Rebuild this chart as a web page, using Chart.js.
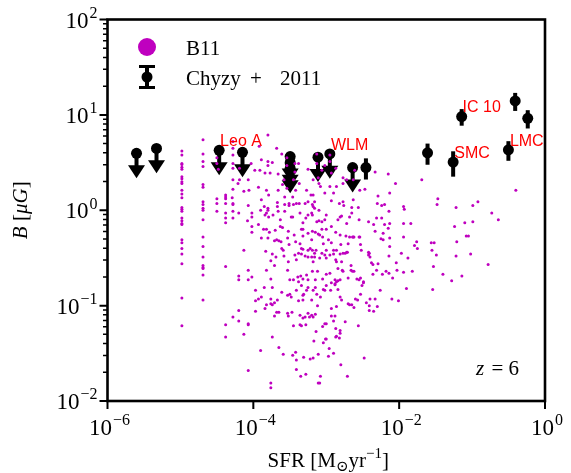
<!DOCTYPE html>
<html><head><meta charset="utf-8">
<script src="https://cdn.jsdelivr.net/npm/chart.js@4"></script>
<style>html,body{margin:0;padding:0;background:#fff}</style>
</head><body>
<canvas id="c" width="571" height="473"></canvas>
<script>
// ---------------- DATA ----------------
// B11 model galaxies: [log10 SFR (Msun/yr), log10 B (muG)]
const b11Col1 = [0.62,0.58,0.49,0.48,0.45,0.43,0.35,0.33,0.30,0.28,0.21,0.17,0.13,0.03,0.01,-0.01,-0.08,-0.11,-0.14,-0.15,-0.31,-0.34,-0.40,-0.46,-0.56,-0.92,-1.21];
const b11Col1LogSFR = -4.98;
const b11Col2 = [0.74,0.59,0.51,0.46,0.27,0.24,0.09,0.06,0.02,0.00,-0.10,-0.28,-0.38,-0.49,-0.58,-0.60,-0.61,-0.68,-0.94];
const b11Col2LogSFR = -4.69;
const b11Log = [
[-4.50,0.07],[-4.38,0.07],[-4.28,0.07],[-4.28,0.06],[-4.07,0.05],[-3.89,0.11],[-3.85,0.04],[-3.80,0.02],[-3.80,0.00],[-3.67,0.08],
[-3.67,0.04],[-3.57,0.06],[-3.51,0.07],[-3.51,0.05],[-3.45,0.06],[-3.41,0.07],[-3.37,0.07],[-3.29,0.07],[-3.25,0.09],[-3.19,0.06],
[-3.18,0.04],[-3.16,0.09],[-3.10,0.00],[-2.93,0.10],[-2.82,0.07],[-2.76,0.05],[-2.77,0.09],[-2.65,0.03],[-2.56,0.03],[-2.63,0.11],
[-2.30,0.07],[-2.24,0.05],[-2.20,0.06],[-2.14,-0.01],[-1.94,0.04],[-1.93,0.01],[-1.48,0.06],[-1.22,0.03],[-0.99,0.05],[-0.92,0.09],
[-4.50,-0.01],[-4.38,-0.03],[-4.28,-0.01],[-4.28,-0.08],[-4.20,-0.03],[-4.08,-0.11],[-4.02,-0.03],[-4.02,-0.07],[-3.90,0.00],[-3.84,-0.05],
[-3.82,-0.03],[-3.79,-0.07],[-3.73,-0.05],[-3.66,-0.01],[-3.63,-0.10],[-3.57,-0.01],[-3.48,-0.07],[-3.46,-0.07],[-3.36,-0.03],[-3.32,-0.13],
[-3.28,-0.08],[-3.25,-0.05],[-3.20,-0.03],[-3.19,-0.05],[-3.16,0.02],[-3.13,-0.12],[-3.10,-0.11],[-3.06,-0.12],[-3.02,-0.10],[-3.00,-0.05],
[-2.84,-0.10],[-2.81,-0.07],[-2.79,-0.06],[-2.72,-0.14],[-2.68,-0.07],[-2.65,-0.03],[-2.55,-0.10],[-2.42,-0.12],[-2.35,-0.15],[-2.31,-0.08],
[-2.24,-0.08],[-2.20,-0.15],[-2.13,-0.14],[-1.94,-0.14],[-1.84,-0.14],[-1.24,-0.17],[-1.10,-0.13],[-0.99,-0.12],[-0.73,-0.03],[-0.64,-0.10],
[-4.02,-0.17],[-4.02,-0.23],[-3.93,-0.15],[-3.86,-0.20],[-3.82,-0.20],[-3.78,-0.23],[-3.70,-0.21],[-3.63,-0.17],[-3.60,-0.18],[-3.52,-0.22],
[-3.44,-0.26],[-3.34,-0.20],[-3.32,-0.20],[-3.32,-0.27],[-3.25,-0.24],[-3.19,-0.22],[-3.15,-0.23],[-3.11,-0.25],[-3.09,-0.26],[-3.06,-0.20],
[-3.05,-0.28],[-3.00,-0.20],[-2.93,-0.17],[-2.87,-0.23],[-2.81,-0.26],[-2.73,-0.27],[-2.68,-0.28],[-2.63,-0.28],[-2.55,-0.28],[-2.54,-0.28],
[-2.33,-0.22],[-2.22,-0.24],[-2.15,-0.19],[-1.94,-0.28],[-1.08,-0.27],[-1.05,-0.27],
[-3.89,-0.29],[-3.80,-0.29],[-3.71,-0.32],[-3.68,-0.31],[-3.65,-0.32],[-3.62,-0.33],[-3.61,-0.40],[-3.53,-0.29],[-3.51,-0.36],[-3.42,-0.33],
[-3.36,-0.35],[-3.34,-0.40],[-3.32,-0.41],[-3.25,-0.42],[-3.22,-0.40],[-3.20,-0.31],[-3.19,-0.42],[-3.14,-0.42],[-3.16,-0.45],[-3.04,-0.35],
[-3.00,-0.42],[-2.97,-0.31],[-2.93,-0.34],[-2.90,-0.42],[-2.86,-0.42],[-2.80,-0.36],[-2.77,-0.45],[-2.72,-0.44],[-2.70,-0.35],[-2.64,-0.28],
[-2.62,-0.28],[-2.53,-0.36],[-2.52,-0.42],[-2.42,-0.44],[-2.41,-0.45],[-2.25,-0.30],[-2.22,-0.31],[-2.13,-0.29],[-2.13,-0.38],[-1.97,-0.45],
[-1.76,-0.33],[-1.75,-0.40],[-1.56,-0.34],[-1.52,-0.34],[-1.55,-0.42],[-1.21,-0.33],[-4.13,-0.42],[-1.79,-0.37],
[-3.83,-0.43],[-3.74,-0.46],[-3.69,-0.49],[-3.76,-0.53],[-3.71,-0.58],[-3.59,-0.42],[-3.58,-0.48],[-3.52,-0.54],[-3.43,-0.47],[-3.41,-0.52],
[-3.38,-0.45],[-3.34,-0.46],[-3.29,-0.48],[-3.25,-0.49],[-3.20,-0.49],[-3.18,-0.54],[-3.16,-0.49],[-3.09,-0.50],[-3.06,-0.45],[-3.02,-0.47],
[-3.00,-0.50],[-2.95,-0.47],[-2.90,-0.46],[-2.87,-0.52],[-2.86,-0.54],[-2.81,-0.46],[-2.79,-0.54],[-2.74,-0.45],[-2.71,-0.44],[-2.66,-0.58],
[-2.64,-0.64],[-2.42,-0.47],[-2.40,-0.49],[-2.38,-0.55],[-2.36,-0.57],[-2.29,-0.56],[-2.14,-0.48],[-2.04,-0.55],[-1.88,-0.50],[-1.49,-0.47],
[-1.53,-0.59],[-1.22,-0.48],[-1.02,-0.46],[-0.78,-0.57],
[-4.38,-0.59],[-4.20,-0.69],[-4.20,-0.73],[-4.07,-0.63],[-4.07,-0.73],[-4.02,-0.70],[-3.82,-0.63],[-3.76,-0.72],[-3.53,-0.63],[-3.50,-0.73],
[-3.45,-0.73],[-3.39,-0.70],[-3.38,-0.75],[-3.35,-0.69],[-3.32,-0.72],[-3.27,-0.68],[-3.25,-0.73],[-3.19,-0.64],[-3.15,-0.73],[-3.12,-0.64],
[-3.05,-0.72],[-3.00,-0.67],[-2.95,-0.66],[-2.93,-0.76],[-2.88,-0.73],[-2.88,-0.77],[-2.86,-0.75],[-2.84,-0.74],[-2.81,-0.73],[-2.84,-0.61],
[-2.78,-0.63],[-2.77,-0.64],[-2.70,-0.71],[-2.66,-0.63],[-2.62,-0.64],[-2.58,-0.72],[-2.55,-0.73],[-2.53,-0.71],[-2.49,-0.76],[-2.36,-0.67],
[-2.31,-0.63],[-2.23,-0.67],[-2.18,-0.64],[-2.14,-0.66],[-2.09,-0.71],[-2.03,-0.63],[-1.94,-0.65],[-1.82,-0.64],[-1.40,-0.67],[-1.28,-0.74],
[-1.14,-0.69],
[-3.97,-0.84],[-3.93,-0.93],[-3.89,-0.91],[-3.85,-0.81],[-3.76,-0.93],[-3.74,-0.81],[-3.67,-0.94],[-3.61,-0.86],[-3.53,-0.89],[-3.50,-0.88],
[-3.48,-0.91],[-3.41,-0.84],[-3.38,-0.95],[-3.34,-0.79],[-3.32,-0.89],[-3.32,-0.94],[-3.31,-0.88],[-3.27,-0.84],[-3.25,-0.81],[-3.20,-0.94],
[-3.18,-0.84],[-3.15,-0.81],[-3.13,-0.88],[-3.08,-0.91],[-3.04,-0.83],[-3.02,-0.84],[-3.00,-0.79],[-2.94,-0.84],[-2.88,-0.78],[-2.84,-0.83],
[-2.81,-0.91],[-2.79,-0.94],[-2.70,-0.98],[-2.68,-0.99],[-2.65,-0.99],[-2.60,-0.93],[-2.57,-0.94],[-2.53,-0.88],[-2.51,-0.79],[-2.49,-0.75],
[-2.45,-0.97],[-2.41,-1.00],[-2.40,-0.93],[-2.33,-0.93],[-2.26,-0.84],[-2.10,-0.93],[-2.01,-0.95],[-1.90,-0.82],[-1.54,-0.83],
[-3.97,-0.95],[-3.71,-0.97],[-3.76,-0.98],[-3.82,-0.99],
[-4.20,-1.05],[-4.20,-1.16],[-4.28,-1.12],[-4.38,-1.20],[-4.07,-1.19],[-4.07,-1.20],[-3.97,-1.06],[-3.84,-1.03],[-3.74,-0.99],[-3.68,-1.07],
[-3.65,-1.07],[-3.71,-1.11],[-3.53,-1.08],[-3.52,-1.11],[-3.47,-1.07],[-3.45,-1.21],[-3.36,-1.10],[-3.36,-1.20],[-3.34,-1.21],[-3.32,-1.13],
[-3.29,-1.12],[-3.28,-1.20],[-3.25,-1.08],[-3.23,-1.12],[-3.20,-1.10],[-3.18,-1.12],[-3.15,-1.09],[-3.12,-1.00],[-3.05,-1.22],[-3.02,-1.19],
[-3.00,-1.19],[-2.93,-1.11],[-2.93,-1.03],[-2.90,-1.16],[-2.88,-1.11],[-2.87,-1.24],[-2.86,-1.01],[-2.81,-1.26],[-2.74,-1.17],[-2.62,-1.02],
[-2.56,-1.21],[-2.41,-1.05],[-2.35,-1.06],[-2.30,-1.01],
[-4.38,-1.33],[-4.13,-1.30],[-4.07,-1.68],[-3.90,-1.47],[-3.74,-1.33],[-3.65,-1.44],[-3.59,-1.51],[-3.46,-1.52],[-3.42,-1.49],[-3.41,-1.57],
[-3.41,-1.67],[-3.35,-1.74],[-3.31,-1.54],[-3.28,-1.72],[-3.22,-1.56],[-3.18,-1.55],[-3.17,-1.37],[-3.14,-1.27],[-3.11,-1.51],[-3.11,-1.81],
[-3.09,-1.81],[-3.08,-1.74],[-3.04,-1.39],[-3.01,-1.35],[-3.00,-1.35],[-2.97,-1.53],[-2.96,-1.45],[-2.90,-1.50],[-2.87,-1.33],[-2.86,-1.32],
[-2.82,-1.34],[-2.81,-1.29],[-2.80,-1.62],[-2.71,-1.74],[-2.48,-1.55],[-3.76,-1.81],[-3.76,-1.86],
[-3.80,0.79],[-4.28,0.72],[-4.28,0.65],[-3.68,0.65],[-4.28,0.58],[-3.89,0.53],[-3.80,0.51],[-3.80,0.47],[-4.50,0.55],[-4.50,0.49],
[-4.48,0.43],[-4.28,0.49],[-4.28,0.44],[-4.19,0.44],[-3.98,0.42],[-3.91,0.42],[-3.84,0.39],[-3.77,0.39],[-3.66,0.38],[-4.28,0.32],
[-4.19,0.32],[-4.07,0.32],[-4.21,0.28],[-3.93,0.24],[-4.28,0.22],[-4.13,0.20],[-4.06,0.21],[-3.82,0.21],[-3.79,0.16],[-3.66,0.21],
[-4.38,0.16],[-4.38,0.14],[-4.50,0.12],[-4.29,0.13],[-3.92,0.67],[-3.74,0.50],[-4.03,0.49],[-4.38,0.12],[-4.38,-0.08],[-4.38,-0.13],
[-3.61,0.59],[-3.54,0.55],[-3.54,0.47],[-3.43,0.49],[-3.43,0.40],[-3.38,0.49],[-3.25,0.43],[-3.13,0.59],[-3.13,0.49],[-3.06,0.42],
[-3.02,0.47],[-2.95,0.58],[-2.95,0.51],[-2.93,0.39],[-2.87,0.44],[-2.77,0.34],[-2.77,0.28],[-2.72,0.32],[-2.61,0.42],[-2.54,0.21],
[-2.47,0.22],[-2.33,0.40],[-2.29,0.15],[-2.15,0.38],[-3.58,0.32],[-3.60,0.27],[-3.45,0.32],[-3.54,0.23],[-3.37,0.28],[-3.18,0.32],
[-3.11,0.34],[-3.10,0.28],[-3.08,0.25],[-2.95,0.25],[-2.90,0.18],[-2.86,0.25],[-3.02,0.18],[-3.18,0.16],[-3.27,0.21],[-3.21,0.16],
[-3.42,0.21],[-3.46,0.14],[-3.57,0.14],[-2.63,0.32],
[-1.69,0.32],[-2.05,0.28],[-2.13,0.18],[-1.47,0.12],[-0.40,0.21]
];

// Chyzy et al. 2011 -- detections (B with symmetric error)
const chyzySFR = [3.5e-3, 0.0245, 0.055, 0.072, 0.39, 0.58, 0.315];
const chyzyB   = [2.8, 4.0, 3.2, 9.6, 14.0, 9.2, 4.3];
const chyzyErr = [0.7, 1.0, 0.95, 1.9, 3.0, 2.0, 1.0];
// Chyzy et al. 2011 -- upper limits
const chyzyLimSFR = [2.5e-6, 4.7e-6, 3.4e-5, 7.1e-5, 3.2e-4, 3.2e-4, 3.2e-4, 7.7e-4, 1.12e-3, 2.3e-3];
const chyzyLimB   = [3.95, 4.45, 4.25, 4.05, 3.65, 3.15, 2.75, 3.6, 3.9, 2.8];
// galaxy name annotations
const galaxyNames = ['Leo A', 'WLM', 'IC 10', 'SMC', 'LMC'];
const galaxyLabelSFR = [3.5e-5, 1.16e-3, 0.074, 0.057, 0.33];
const galaxyLabelB   = [4.75, 4.3, 10.6, 3.5, 4.75];
// axis ticks
const xMajorTicks = [1e-6, 1e-4, 1e-2, 1];
const yMajorTicks = [1e-2, 1e-1, 1, 10, 100];
const yMinorMantissas = [2,3,4,5,6,7,8,9];
const seriesNames = ['B11', 'Chyzy + 2011'];
const redshiftLabel = '6';

// ---------------- BUILD ----------------
const b11Points = [];
b11Col1.forEach(v => b11Points.push({x: Math.pow(10, b11Col1LogSFR), y: Math.pow(10, v)}));
b11Col2.forEach(v => b11Points.push({x: Math.pow(10, b11Col2LogSFR), y: Math.pow(10, v)}));
b11Log.forEach(p => b11Points.push({x: Math.pow(10, p[0]), y: Math.pow(10, p[1])}));
const detPoints = chyzySFR.map((s, i) => ({x: s, y: chyzyB[i]}));
const limPoints = chyzyLimSFR.map((s, i) => ({x: s, y: chyzyLimB[i]}));

const MAG = '#bf00bf';
const SERIF = '"Liberation Serif", "DejaVu Serif", serif';
const SANS = '"Liberation Sans", Arial, sans-serif';

function drawPow(ctx, x, y, exp, align, baseSize) {
  const expSize = Math.round(baseSize * 0.7);
  ctx.font = baseSize + 'px ' + SERIF;
  const wb = ctx.measureText('10').width;
  const es = (exp < 0 ? '\u2212' : '') + Math.abs(exp);
  ctx.font = expSize + 'px ' + SERIF;
  const we = ctx.measureText(es).width;
  const total = wb + we + 1;
  let x0 = align === 'right' ? x - total : x - total / 2;
  ctx.textBaseline = 'alphabetic';
  ctx.textAlign = 'left';
  ctx.font = baseSize + 'px ' + SERIF;
  ctx.fillText('10', x0, y);
  ctx.font = expSize + 'px ' + SERIF;
  ctx.fillText(es, x0 + wb + 1, y - baseSize * 0.42);
}

const mplPlugin = {
  id: 'mpl',
  beforeDatasetsDraw(chart) {
    const ctx = chart.ctx, xs = chart.scales.x, ys = chart.scales.y;
    ctx.save();
    ctx.strokeStyle = '#000'; ctx.fillStyle = '#000'; ctx.lineWidth = 4; ctx.lineCap = 'butt';
    chyzySFR.forEach((s, i) => {
      const px = xs.getPixelForValue(s);
      ctx.beginPath();
      ctx.moveTo(px, ys.getPixelForValue(chyzyB[i] + chyzyErr[i]));
      ctx.lineTo(px, ys.getPixelForValue(chyzyB[i] - chyzyErr[i]));
      ctx.stroke();
    });
    chyzyLimSFR.forEach((s, i) => {
      const px = xs.getPixelForValue(s);
      const py0 = ys.getPixelForValue(chyzyLimB[i]);
      const py1 = ys.getPixelForValue(chyzyLimB[i] * 0.75);
      ctx.beginPath(); ctx.moveTo(px, py0); ctx.lineTo(px, py1 + 1); ctx.stroke();
      ctx.beginPath();
      ctx.moveTo(px - 8.5, py1); ctx.lineTo(px + 8.5, py1); ctx.lineTo(px, py1 + 13); ctx.closePath();
      ctx.fill();
    });
    ctx.restore();
  },
  afterDraw(chart) {
    const ctx = chart.ctx, xs = chart.scales.x, ys = chart.scales.y, a = chart.chartArea;
    ctx.save();
    // galaxy labels
    ctx.fillStyle = '#ff0000';
    ctx.font = '16px ' + SANS;
    ctx.textAlign = 'left'; ctx.textBaseline = 'alphabetic';
    galaxyNames.forEach((n, i) => ctx.fillText(n, xs.getPixelForValue(galaxyLabelSFR[i]), ys.getPixelForValue(galaxyLabelB[i])));
    // frame
    ctx.strokeStyle = '#000'; ctx.lineWidth = 2.6;
    ctx.strokeRect(a.left, a.top, a.right - a.left, a.bottom - a.top);
    // ticks
    ctx.lineWidth = 2;
    ctx.beginPath();
    xMajorTicks.forEach(t => { const p = xs.getPixelForValue(t); ctx.moveTo(p, a.bottom); ctx.lineTo(p, a.bottom + 8); });
    yMajorTicks.forEach(t => { const p = ys.getPixelForValue(t); ctx.moveTo(a.left, p); ctx.lineTo(a.left - 8, p); });
    ctx.stroke();
    ctx.lineWidth = 1.5;
    ctx.beginPath();
    yMajorTicks.slice(0, -1).forEach(t => yMinorMantissas.forEach(m => {
      const p = ys.getPixelForValue(t * m); ctx.moveTo(a.left, p); ctx.lineTo(a.left - 4.5, p);
    }));
    ctx.stroke();
    // tick labels
    ctx.fillStyle = '#000';
    xMajorTicks.forEach(t => drawPow(ctx, xs.getPixelForValue(t) + 2, a.bottom + 34, Math.round(Math.log10(t)), 'center', 23));
    yMajorTicks.forEach(t => drawPow(ctx, a.left - 10, ys.getPixelForValue(t) + 8, Math.round(Math.log10(t)), 'right', 23));
    // x axis label: SFR [M_sun yr^-1]
    {
      const base = '21px ' + SERIF, small = '15px ' + SERIF;
      const parts = [['SFR [M', base, 0], ['\u2299', small, 4], ['yr', base, 0], ['\u22121', small, -9], [']', base, 0]];
      let w = 0;
      parts.forEach(p => { ctx.font = p[1]; w += ctx.measureText(p[0]).width; });
      let x = (a.left + a.right) / 2 - w / 2 + 2;
      const y = 467;
      ctx.textAlign = 'left';
      parts.forEach(p => { ctx.font = p[1]; ctx.fillText(p[0], x, y + p[2]); x += ctx.measureText(p[0]).width; });
    }
    // y axis label: B [mu G]
    {
      ctx.save();
      ctx.translate(27, (a.top + a.bottom) / 2);
      ctx.rotate(-Math.PI / 2);
      const parts = [['B', 'italic 21px ' + SERIF], [' [', '21px ' + SERIF], ['\u03bcG', 'italic 21px ' + SERIF], [']', '21px ' + SERIF]];
      let w = 0;
      parts.forEach(p => { ctx.font = p[1]; w += ctx.measureText(p[0]).width; });
      let x = -w / 2;
      parts.forEach(p => { ctx.font = p[1]; ctx.fillText(p[0], x, 0); x += ctx.measureText(p[0]).width; });
      ctx.restore();
    }
    // z = 6
    ctx.font = 'italic 21px ' + SERIF;
    ctx.fillText('z', 476, 375);
    const wz = ctx.measureText('z').width;
    ctx.font = '21px ' + SERIF;
    ctx.fillText(' = ' + redshiftLabel, 476 + wz + 2, 375);
    // legend
    ctx.fillStyle = MAG;
    ctx.beginPath(); ctx.arc(147, 47, 9, 0, Math.PI * 2); ctx.fill();
    ctx.fillStyle = '#000'; ctx.strokeStyle = '#000';
    ctx.lineWidth = 4;
    ctx.beginPath(); ctx.moveTo(147, 66); ctx.lineTo(147, 88); ctx.stroke();
    ctx.lineWidth = 3;
    ctx.beginPath(); ctx.moveTo(139, 66.5); ctx.lineTo(155, 66.5); ctx.moveTo(139, 87.5); ctx.lineTo(155, 87.5); ctx.stroke();
    ctx.beginPath(); ctx.arc(147, 77, 5.5, 0, Math.PI * 2); ctx.fill();
    ctx.font = '21px ' + SERIF;
    ctx.textBaseline = 'alphabetic';
    ctx.fillText(seriesNames[0], 186, 55);
    ctx.fillText('Chyzy', 186, 85);
    ctx.fillText('+', 250, 85);
    ctx.fillText('2011', 280, 85);
    ctx.restore();
  }
};

new Chart(document.getElementById('c'), {
  type: 'scatter',
  data: {
    datasets: [
      { label: seriesNames[0], data: b11Points, pointRadius: 1.5, pointBorderWidth: 0, pointBackgroundColor: MAG, pointBorderColor: MAG },
      { label: seriesNames[1], data: detPoints, pointRadius: 5.5, pointBorderWidth: 0, pointBackgroundColor: '#000' },
      { label: seriesNames[1] + ' limits', data: limPoints, pointRadius: 5.5, pointBorderWidth: 0, pointBackgroundColor: '#000' }
    ]
  },
  options: {
    responsive: false,
    devicePixelRatio: 1,
    animation: false,
    layout: { padding: { left: 107.5, right: 26, top: 19.5, bottom: 72 } },
    plugins: { legend: { display: false }, tooltip: { enabled: false } },
    scales: {
      x: { type: 'logarithmic', min: 1e-6, max: 1, display: false },
      y: { type: 'logarithmic', min: 1e-2, max: 100, display: false }
    }
  },
  plugins: [mplPlugin]
});
</script>
</body></html>
